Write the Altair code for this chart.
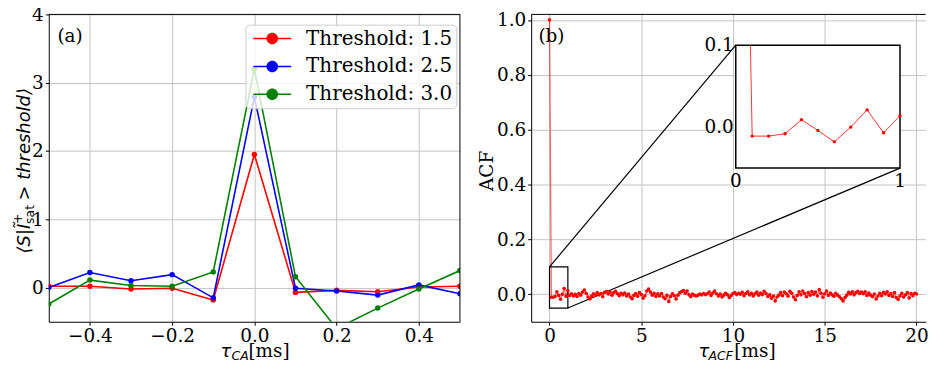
import altair as alt
import pandas as pd

# ---------------- panel (a): conditional averages ----------------
tau_ca = [-0.5, -0.4, -0.3, -0.2, -0.1, 0.0, 0.1, 0.2, 0.3, 0.4, 0.5]
cond_avg_15 = [0.02, 0.02, -0.02, -0.01, -0.18, 1.95, -0.07, -0.04, -0.06, 0.01, 0.02]
cond_avg_25 = [0.00, 0.22, 0.10, 0.19, -0.15, 2.79, -0.01, -0.05, -0.11, 0.04, -0.09]
cond_avg_30 = [-0.24, 0.11, 0.03, 0.02, 0.23, 3.20, 0.16, -0.60, -0.30, -0.02, 0.25]
series_labels = ["Threshold: 1.5", "Threshold: 2.5", "Threshold: 3.0"]
series_colors = ["#ff0000", "#0000ff", "#008000"]
a_xticks = [-0.4, -0.2, 0.0, 0.2, 0.4]
a_yticks = [0, 1, 2, 3, 4]

# ---------------- panel (b): ACF ----------------
acf_step = 0.1
acf_values = [
    1.0,
    -0.011, -0.011, -0.008, 0.009, -0.004, -0.018, 0.0, 0.021, -0.007, 0.014,
    -0.004, 0.002, -0.006, 0.0, -0.008, 0.003, -0.003, 0.008, 0.016, 0.004,
    -0.010, -0.017, -0.006, 0.002, -0.004, 0.006, -0.002, 0.003, -0.009, 0.007,
    0.010, 0.001, 0.008, -0.003, 0.006, 0.011, 0.002, -0.005, 0.004, -0.002,
    0.005, -0.006, 0.001, -0.010, -0.016, -0.004, 0.003, -0.007, 0.006, -0.001,
    -0.014, -0.005, 0.012, 0.019, 0.008, -0.003, 0.004, -0.008, 0.002, -0.006,
    0.003, -0.010, -0.016, -0.004, -0.026, -0.008, 0.002, -0.005, -0.017, -0.003,
    0.006, 0.010, 0.014, 0.004, 0.012, -0.002, -0.009, 0.001, -0.004, -0.006,
    -0.003, 0.001, -0.002, 0.003, -0.001, 0.002, 0.008, -0.004, 0.005, 0.012,
    0.002, -0.006, 0.001, -0.010, -0.003, 0.004, -0.002, -0.012, -0.004, 0.003,
    0.006, -0.001, 0.004, 0.000, 0.007, -0.005, 0.003, 0.009, -0.002, 0.004,
    -0.006, 0.002, 0.008, -0.003, 0.005, -0.001, 0.011, 0.003, -0.008, -0.002,
    -0.014, -0.006, -0.024, -0.010, -0.003, 0.006, -0.005, 0.008, 0.002, -0.007,
    0.011, 0.004, -0.010, -0.020, -0.004, 0.009, -0.002, 0.012, 0.003, -0.009,
    0.006, -0.003, 0.010, 0.000, 0.008, -0.006, 0.017, 0.004, -0.011, 0.002,
    0.012, -0.004, 0.005, -0.002, -0.007, 0.004, -0.003, -0.009, -0.016, -0.024,
    -0.012, -0.003, 0.007, 0.001, 0.009, -0.002, 0.006, 0.011, 0.003, 0.008,
    0.002, 0.009, -0.004, 0.005, -0.003, -0.009, 0.001, -0.017, -0.006, 0.004,
    -0.005, 0.007, 0.001, 0.009, -0.004, 0.003, -0.008, 0.006, -0.012, -0.019,
    -0.006, 0.004, -0.010, -0.002, 0.006, -0.013, 0.003, -0.005, 0.004, 0.001,
]
acf_lags = [round(i * acf_step, 1) for i in range(len(acf_values))]
b_xticks = [0, 5, 10, 15, 20]
b_yticks = [0.0, 0.2, 0.4, 0.6, 0.8, 1.0]

# zoomed region (inset domain) and where the inset sits in main-axes data coords
inset_xdom = [0.0, 1.0]
inset_ydom = [-0.05, 0.1]
inset_xticks = [0, 1]
inset_yticks = [0.0, 0.1]
inset_main_x = [10.15, 19.1]
inset_main_y = [0.46, 0.908]

# ---------------- layout constants ----------------
SERIF = "DejaVu Serif"
SANS = "DejaVu Sans"
FS = 18.5
LEG_FS = 20
A_W, A_H = 413.4, 309
PX_PER_LAG = 18.45
B_XDOM = [-1.0, 20.5]
B_W = (B_XDOM[1] - B_XDOM[0]) * PX_PER_LAG
A_XDOM = [-0.5, 0.5]
A_YDOM = [-0.5, 4.0]
B_YDOM = [-0.1, 1.02]
XT_BASE = 344.0   # x-title baseline below plot top
XT_SUB = 347.0    # subscript baseline


def b_px(x):
    return (x - B_XDOM[0]) / (B_XDOM[1] - B_XDOM[0]) * B_W


def b_py(y):
    return (B_YDOM[1] - y) / (B_YDOM[1] - B_YDOM[0]) * A_H


def txt(s, x, y, font=SERIF, size=FS, italic=False, angle=0, align="left", baseline="alphabetic"):
    return alt.Chart(pd.DataFrame({"t": [s]})).mark_text(
        font=font, fontSize=size, fontStyle="italic" if italic else "normal",
        angle=angle, align=align, baseline=baseline, color="black",
    ).encode(text="t:N", x=alt.value(x), y=alt.value(y))


def hrule(x0, x1, y):
    return alt.Chart(pd.DataFrame({"k": [0]})).mark_rule(color="black", strokeWidth=1).encode(
        x=alt.value(x0), x2=alt.value(x1), y=alt.value(y))


def vrule(x, y0, y1):
    return alt.Chart(pd.DataFrame({"k": [0]})).mark_rule(color="black", strokeWidth=1).encode(
        x=alt.value(x), y=alt.value(y0), y2=alt.value(y1))


# ================= panel (a) =================
rows = []
for lab, vals in zip(series_labels, [cond_avg_15, cond_avg_25, cond_avg_30]):
    for t, v in zip(tau_ca, vals):
        rows.append({"tau": t, "val": v, "series": lab})
df_a = pd.DataFrame(rows)

xa = alt.X("tau:Q", scale=alt.Scale(domain=A_XDOM, nice=False, zero=False),
           axis=alt.Axis(values=a_xticks, format=".1f", title=None))
ya = alt.Y("val:Q", scale=alt.Scale(domain=A_YDOM, nice=False, zero=False),
           axis=alt.Axis(values=a_yticks, format="d", title=None))

LEG_PATH = ("M-0.6,-0.075L3.2,-0.075L3.2,0.075L-0.6,0.075Z "
            "M1.88,0A0.58,0.58 0 1,1 0.72,0A0.58,0.58 0 1,1 1.88,0Z")
legend_a = alt.Legend(
    orient="none", legendX=197.7, legendY=10.3, title=None,
    symbolType=LEG_PATH, symbolSize=400, symbolStrokeWidth=0, symbolOpacity=1,
    labelFont=SERIF, labelFontSize=LEG_FS, labelColor="black", labelOffset=37, labelLimit=0,
    rowPadding=8, padding=4, fillColor="rgba(255,255,255,0.8)", strokeColor="#cccccc",
    cornerRadius=4,
)

line_layers = []
for lab, col in zip(series_labels, series_colors):
    line_layers.append(
        alt.Chart(df_a).transform_filter(alt.datum.series == lab)
        .mark_line(strokeWidth=1.6, clip=True, color=col)
        .encode(x=xa, y=ya)
    )
points_a = alt.Chart(df_a).mark_circle(size=30, opacity=1, clip=True).encode(
    x=xa, y=ya,
    color=alt.Color("series:N", scale=alt.Scale(domain=series_labels, range=series_colors), legend=legend_a))

chart_a = alt.layer(
    *line_layers, points_a,
    hrule(0, A_W, 0), vrule(A_W, 0, A_H),
    txt("(a)", 8.7, 27.3),
    txt("⟨S|Ĩ", -19.3, 240.3, font=SANS, size=18, italic=True, angle=270),
    txt("+", -26.8, 210.6, font=SANS, size=12.5, angle=270),
    txt("sat", -15.3, 210.6, font=SANS, size=12.5, angle=270),
    txt("> threshold⟩", -19.3, 187, font=SANS, size=18, italic=True, angle=270),
    txt("τ", 172.7, XT_BASE, font=SANS, size=18, italic=True),
    txt("CA", 183.7, XT_SUB, font=SANS, size=12.5, italic=True),
    txt("[ms]", 200.7, XT_BASE, font=SERIF, size=18.5),
).properties(width=A_W, height=A_H)

# ================= panel (b) =================
df_b = pd.DataFrame({"lag": acf_lags, "acf": acf_values})
b_xscale = alt.Scale(domain=B_XDOM, nice=False, zero=False)
b_yscale = alt.Scale(domain=B_YDOM, nice=False, zero=False)
b_xaxis = alt.Axis(values=b_xticks, format="d", title=None)
b_yaxis = alt.Axis(values=b_yticks, format=".1f", title=None)

line_b = alt.Chart(df_b).mark_line(color="#ff0000", strokeWidth=1.3, opacity=0.6, clip=True).encode(
    x=alt.X("lag:Q", scale=b_xscale, axis=b_xaxis), y=alt.Y("acf:Q", scale=b_yscale, axis=b_yaxis))
pts_b = alt.Chart(df_b).mark_circle(color="#ff0000", size=13, opacity=1, clip=True).encode(
    x=alt.X("lag:Q", scale=b_xscale, axis=b_xaxis), y=alt.Y("acf:Q", scale=b_yscale, axis=b_yaxis))

df_zoom = pd.DataFrame({"x0": [inset_xdom[0]], "x1": [inset_xdom[1]],
                        "y0": [inset_ydom[0]], "y1": [inset_ydom[1]]})
zoom_rect = alt.Chart(df_zoom).mark_rect(filled=False, color="black", strokeWidth=1.2).encode(
    x=alt.X("x0:Q", scale=b_xscale, axis=b_xaxis), x2="x1:Q",
    y=alt.Y("y0:Q", scale=b_yscale, axis=b_yaxis), y2="y1:Q")

df_conn = pd.DataFrame({
    "seg": ["a", "a", "b", "b"],
    "cx": [inset_xdom[0], inset_main_x[0], inset_xdom[1], inset_main_x[1]],
    "cy": [inset_ydom[1], inset_main_y[1], inset_ydom[0], inset_main_y[0]],
})
conn = alt.Chart(df_conn).mark_line(color="black", strokeWidth=1.2).encode(
    x=alt.X("cx:Q", scale=b_xscale, axis=b_xaxis), y=alt.Y("cy:Q", scale=b_yscale, axis=b_yaxis),
    detail="seg:N")

main_b = alt.layer(
    line_b, zoom_rect, conn, pts_b,
    hrule(0, B_W, 0),
    txt("(b)", 7.3, 27.3),
    txt("ACF", -38.7, 157.3, angle=270, align="center"),
    txt("τ", 168.3, XT_BASE, font=SANS, size=18, italic=True),
    txt("ACF", 178.3, XT_SUB, font=SANS, size=12.5, italic=True),
    txt("[ms]", 204.3, XT_BASE, font=SERIF, size=18.5),
)

# ---- inset ----
ix_scale = alt.Scale(domain=inset_xdom, range=[b_px(inset_main_x[0]), b_px(inset_main_x[1])],
                     nice=False, zero=False)
iy_scale = alt.Scale(domain=inset_ydom, range=[b_py(inset_main_y[0]), b_py(inset_main_y[1])],
                     nice=False, zero=False)

inset_frame = alt.Chart(df_zoom).mark_rect(fill="white", stroke="black", strokeWidth=1.5).encode(
    x=alt.X("x0:Q", scale=ix_scale, axis=None), x2="x1:Q",
    y=alt.Y("y0:Q", scale=iy_scale, axis=None), y2="y1:Q")

YT = inset_ydom[1]
inset_line = alt.Chart(df_b).transform_filter(
    f"datum.lag <= {inset_xdom[1]} + 1e-9"
).transform_window(
    next_lag="lead(lag)", next_acf="lead(acf)", sort=[alt.SortField("lag", order="ascending")]
).transform_calculate(
    xc=f"datum.acf > {YT} ? datum.lag + (datum.next_lag - datum.lag) * (datum.acf - {YT}) / (datum.acf - datum.next_acf) : datum.lag",
    yc=f"min(datum.acf, {YT})",
).mark_line(color="#ff0000", strokeWidth=1, opacity=0.8).encode(
    x=alt.X("xc:Q", scale=ix_scale, axis=None), y=alt.Y("yc:Q", scale=iy_scale, axis=None))

inset_pts = alt.Chart(df_b).transform_filter(
    f"datum.lag <= {inset_xdom[1]} + 1e-9 && datum.acf <= {YT}"
).mark_circle(color="#ff0000", size=12, opacity=1).encode(
    x=alt.X("lag:Q", scale=ix_scale, axis=None), y=alt.Y("acf:Q", scale=iy_scale, axis=None))

df_iyt = pd.DataFrame({"xv": [inset_xdom[0]] * len(inset_yticks), "yv": inset_yticks,
                       "lab": [f"{v:.1f}" for v in inset_yticks]})
df_ixt = pd.DataFrame({"xv": inset_xticks, "yv": [inset_ydom[0]] * len(inset_xticks),
                       "lab": [str(v) for v in inset_xticks]})
inset_ylab = alt.Chart(df_iyt).mark_text(font=SERIF, fontSize=FS, align="right", baseline="middle",
                                         dx=-2, color="black").encode(
    x=alt.X("xv:Q", scale=ix_scale, axis=None), y=alt.Y("yv:Q", scale=iy_scale, axis=None), text="lab:N")
inset_xlab = alt.Chart(df_ixt).mark_text(font=SERIF, fontSize=FS, align="center", baseline="top",
                                         dy=4, color="black").encode(
    x=alt.X("xv:Q", scale=ix_scale, axis=None), y=alt.Y("yv:Q", scale=iy_scale, axis=None), text="lab:N")

inset = alt.layer(inset_frame, inset_line, inset_pts, inset_ylab, inset_xlab)

chart_b = alt.layer(main_b, inset).resolve_scale(x="independent", y="independent").properties(
    width=B_W, height=A_H)

chart = alt.hconcat(chart_a, chart_b, spacing=17).resolve_scale(
    color="independent"
).resolve_legend(color="independent").properties(
    padding={"left": 4, "top": -3.5, "right": 0, "bottom": -3.5}
).configure_view(stroke=None).configure_axis(
    labelFont=SERIF, labelFontSize=FS, labelColor="black", labelPadding=2, labelFlush=False,
    domainColor="black", domainWidth=1, tickColor="black", tickSize=3.5, tickWidth=1,
    gridColor="#c4c4c4", gridWidth=1,
).configure_axisX(labelPadding=1)

chart.save("out.html", embed_options={"renderer": "svg", "actions": False})
